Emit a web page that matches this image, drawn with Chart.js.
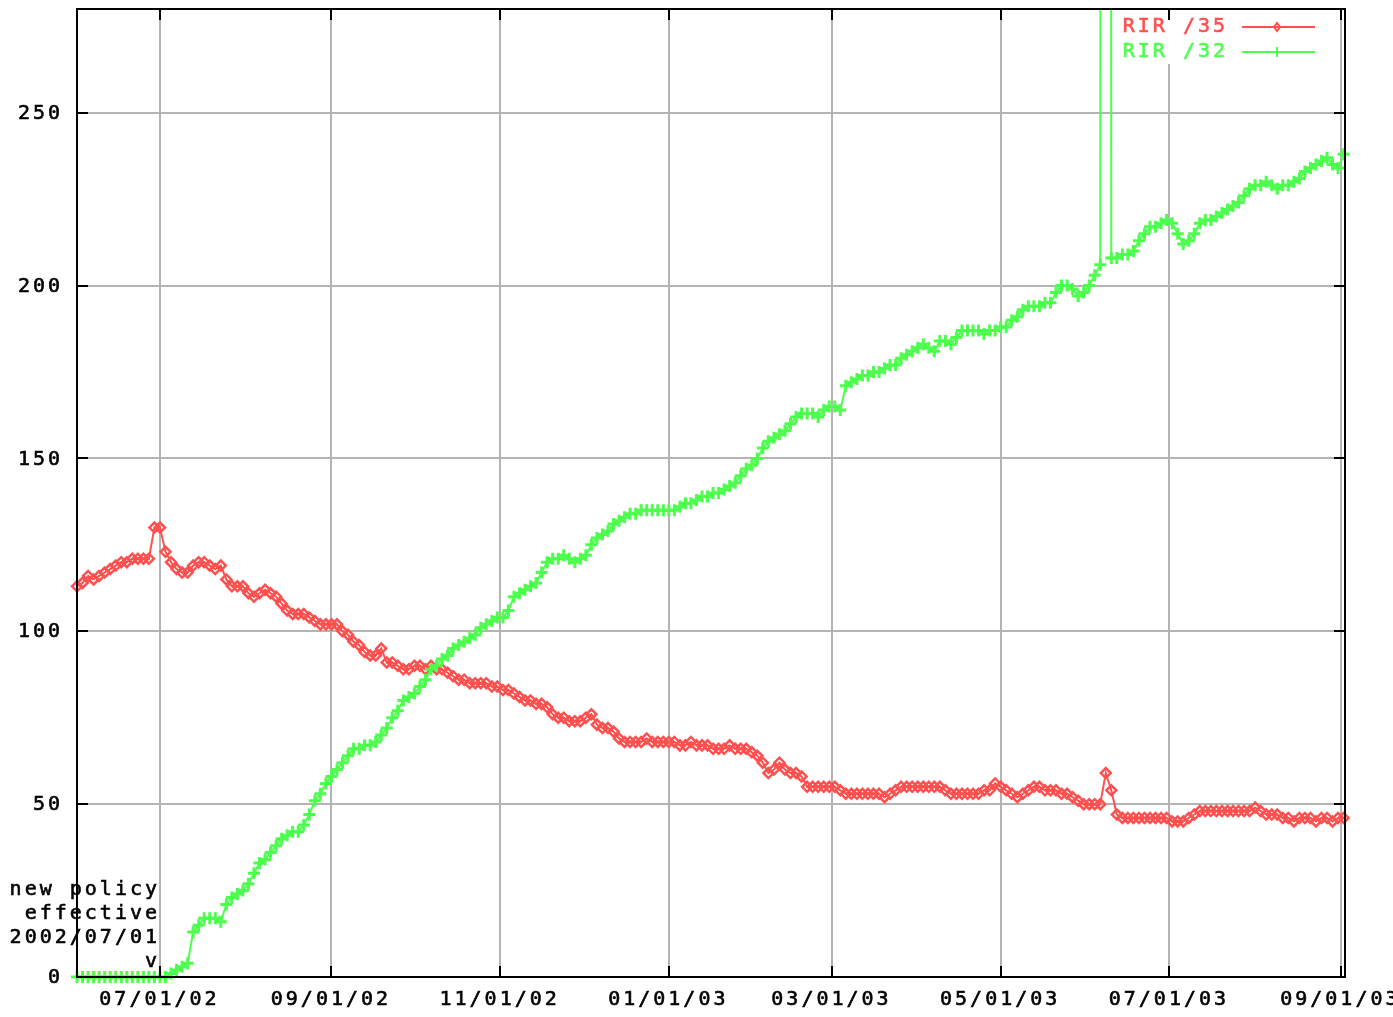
<!DOCTYPE html>
<html>
<head>
<meta charset="utf-8">
<script src="https://cdn.jsdelivr.net/npm/chart.js@4/dist/chart.umd.min.js"></script>
<style>
  html, body { margin: 0; padding: 0; background: #fff; }
  canvas { display: block; }
</style>
</head>
<body>
<canvas id="c" width="1393" height="1017"></canvas>
<script>
// Daily prefix counts, sampled every 2 days starting 2002-06-01 (day 0).
const sampleStepDays = 2;

// RIR /35 prefix count
const rir35 = [
  113,114,116,115,116,117,118,119,120,120,
  121,121,121,121,130,130,123,120,118,117,
  117,119,120,120,119,118,119,115,113,113,
  113,111,110,111,112,111,110,108,106,105,
  105,105,104,103,102,102,102,102,100,99,
  97,96,94,93,93,95,91,91,90,89,
  89,90,90,89,90,89,89,88,87,86,
  86,85,85,85,85,84,84,83,83,82,
  81,80,80,79,79,78,76,75,75,74,
  74,74,75,76,73,72,72,71,69,68,
  68,68,68,69,68,68,68,68,68,67,
  67,68,67,67,67,66,66,66,67,66,
  66,66,65,64,62,59,60,62,60,59,
  59,58,55,55,55,55,55,55,54,53,
  53,53,53,53,53,53,52,53,54,55,
  55,55,55,55,55,55,55,54,53,53,
  53,53,53,53,54,54,56,55,54,53,
  52,53,54,55,55,54,54,54,53,53,
  52,51,50,50,50,50,59,54,47,46,
  46,46,46,46,46,46,46,46,45,45,
  45,46,47,48,48,48,48,48,48,48,
  48,48,48,49,48,47,47,47,46,46,
  45,46,46,46,45,46,46,45,46,46
];

// RIR /32 prefix count
const rir32 = [
  0,0,0,0,0,0,0,0,0,0,
  0,0,0,0,0,0,0,1,2,3,
  4,13,15,17,17,17,16,21,23,24,
  25,27,30,33,34,36,38,40,41,42,
  42,44,47,51,53,56,58,60,62,64,
  66,66,67,67,68,70,72,75,77,80,
  81,82,84,86,89,90,92,93,95,96,
  97,98,99,101,102,103,104,104,106,110,
  111,112,113,114,117,120,121,121,122,121,
  120,121,122,125,127,128,129,131,132,133,
  134,134,135,135,135,135,135,135,135,136,
  137,137,138,139,139,140,140,141,142,143,
  145,147,148,150,153,155,156,157,158,160,
  162,163,163,163,162,164,165,165,164,171,
  172,173,174,174,175,175,176,177,177,179,
  180,181,182,183,182,181,184,184,183,185,
  187,187,187,187,186,187,187,188,188,190,
  191,193,194,194,194,195,195,198,200,200,
  199,197,198,200,203,206,3000,208,208,209,
  209,210,213,215,217,217,218,219,218,215,
  212,213,215,218,219,219,220,221,222,223,
  224,226,228,229,229,230,229,228,229,229,
  230,231,233,234,235,236,237,235,234,238
];

// Axis ticks: x values are days since 2002-06-01
const xTickDays   = [30, 92, 153, 214, 273, 334, 395, 457];
const xTickLabels = ['07/01/02','09/01/02','11/01/02','01/01/03','03/01/03','05/01/03','07/01/03','09/01/03'];
const yTickValues = [0, 50, 100, 150, 200, 250];

const seriesNames = ['RIR /35', 'RIR /32'];
const noteLines = ['new policy', 'effective', '2002/07/01', 'v'];

const RED = '#ff5050';
const GREEN = '#4dff4d';
const FONT = '20px "DejaVu Sans Mono", monospace';

const toPoints = arr => arr.map((v, i) => ({ x: i * sampleStepDays, y: v }));

function textWidth(ctx, s) {
  const w = ctx.measureText(s).width;
  return ctx.letterSpacing && ctx.letterSpacing !== '0px' ? w - 3 : w;
}
function drawText(ctx, s, x, y, align) {
  const w = textWidth(ctx, s);
  let sx = x;
  if (align === 'right') sx = x - w;
  else if (align === 'center') sx = x - w / 2;
  ctx.textAlign = 'left';
  ctx.fillText(s, sx, y);
  // slightly heavier strokes, like a bitmap terminal font
  ctx.lineWidth = 0.6;
  ctx.strokeStyle = ctx.fillStyle;
  ctx.strokeText(s, sx, y);
}

const decorations = {
  id: 'decorations',
  afterDraw(chart) {
    const ctx = chart.ctx;
    const { left, right, top, bottom } = chart.chartArea;
    const xs = chart.scales.x, ys = chart.scales.y;
    ctx.save();

    // key box
    ctx.fillStyle = '#fff';
    ctx.fillRect(1113, 14, 215, 50);

    // frame
    ctx.strokeStyle = '#000';
    ctx.lineWidth = 2;
    ctx.strokeRect(left, top, right - left, bottom - top);

    // inward ticks
    ctx.beginPath();
    yTickValues.forEach(v => {
      const py = Math.round(ys.getPixelForValue(v));
      ctx.moveTo(left, py); ctx.lineTo(left + 11, py);
      ctx.moveTo(right, py); ctx.lineTo(right - 11, py);
    });
    xTickDays.forEach(d => {
      const px = Math.round(xs.getPixelForValue(d));
      ctx.moveTo(px, bottom); ctx.lineTo(px, bottom - 11);
      ctx.moveTo(px, top); ctx.lineTo(px, top + 11);
    });
    ctx.stroke();

    // labels
    ctx.font = FONT;
    if ('letterSpacing' in ctx) ctx.letterSpacing = '3px';
    ctx.textBaseline = 'middle';
    ctx.fillStyle = '#000';
    yTickValues.forEach(v => {
      drawText(ctx, String(v), left - 17, ys.getPixelForValue(v) + 1, 'right');
    });
    xTickDays.forEach((d, i) => {
      drawText(ctx, xTickLabels[i], xs.getPixelForValue(d) - 2, 1000, 'center');
    });

    // policy note
    noteLines.forEach((s, i) => {
      drawText(ctx, s, 157, 890 + i * 24, 'right');
    });

    // key
    const keyRows = [
      { name: seriesNames[0], color: RED, y: 27, marker: 'diamond' },
      { name: seriesNames[1], color: GREEN, y: 52, marker: 'plus' }
    ];
    keyRows.forEach(k => {
      ctx.fillStyle = k.color;
      drawText(ctx, k.name, 1225, k.y, 'right');
      ctx.strokeStyle = k.color;
      ctx.lineWidth = 2;
      ctx.beginPath();
      ctx.moveTo(1242, k.y); ctx.lineTo(1315, k.y);
      ctx.stroke();
      ctx.beginPath();
      if (k.marker === 'diamond') {
        ctx.lineWidth = 2;
        ctx.moveTo(1277, k.y - 4); ctx.lineTo(1280, k.y);
        ctx.lineTo(1277, k.y + 4); ctx.lineTo(1274, k.y); ctx.closePath();
      } else {
        ctx.moveTo(1277, k.y - 5); ctx.lineTo(1277, k.y + 5);
      }
      ctx.stroke();
    });
    ctx.restore();
  }
};

// let markers spill past the left, right and bottom edges of the plot box
const markerClip = { left: 8, right: 8, top: 0, bottom: 8 };

new Chart(document.getElementById('c'), {
  type: 'line',
  data: {
    datasets: [
      {
        label: seriesNames[0],
        data: toPoints(rir35),
        borderColor: RED,
        borderWidth: 2,
        pointStyle: 'rectRot',
        pointRadius: 5,
        pointBorderWidth: 2.5,
        pointBorderColor: RED,
        pointBackgroundColor: 'rgba(255,255,255,0)',
        tension: 0,
        clip: markerClip,
        order: 1
      },
      {
        label: seriesNames[1],
        data: toPoints(rir32),
        borderColor: GREEN,
        borderWidth: 2,
        pointStyle: 'cross',
        pointRadius: 6,
        pointBorderWidth: 3,
        pointBorderColor: GREEN,
        tension: 0,
        clip: markerClip,
        order: 0
      }
    ]
  },
  options: {
    responsive: false,
    animation: false,
    devicePixelRatio: 1,
    layout: { padding: { left: 77, right: 48, top: 5, bottom: 40 } },
    plugins: { legend: { display: false }, tooltip: { enabled: false } },
    scales: {
      x: {
        type: 'linear',
        min: 0,
        max: 458.5,
        afterBuildTicks: s => { s.ticks = xTickDays.map(v => ({ value: v })); },
        afterFit: s => { s.height = 0; },
        ticks: { display: false },
        grid: { color: '#b4b4b4', lineWidth: 2, drawTicks: false },
        border: { display: false }
      },
      y: {
        type: 'linear',
        min: 0,
        max: 280,
        afterBuildTicks: s => { s.ticks = yTickValues.map(v => ({ value: v })); },
        afterFit: s => { s.width = 0; },
        ticks: { display: false },
        grid: { color: '#b4b4b4', lineWidth: 2, drawTicks: false },
        border: { display: false }
      }
    }
  },
  plugins: [decorations]
});
</script>
</body>
</html>
